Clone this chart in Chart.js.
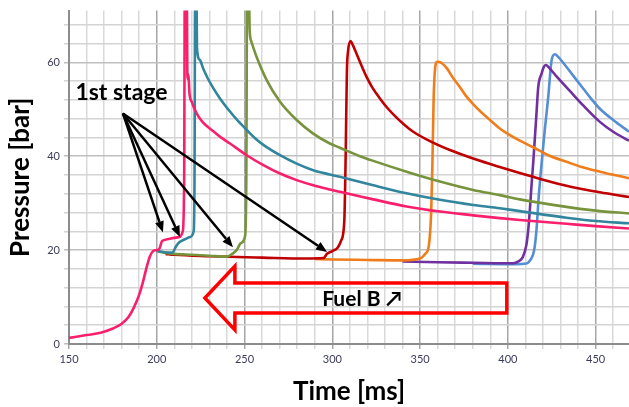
<!DOCTYPE html>
<html>
<head>
<meta charset="utf-8">
<script src="https://cdn.jsdelivr.net/npm/chart.js@4.4.1/dist/chart.umd.min.js"></script>
<style>
  html, body { margin: 0; padding: 0; background: #fff; }
</style>
</head>
<body>
<canvas id="pressureChart" width="629" height="407"></canvas>
<script>
// time [ms] and pressure [bar]
const pinkT = [150, 160, 168, 175, 180, 184, 187, 190, 192, 194, 196, 198, 200, 201.5, 203, 206, 210, 213, 214.8, 215.6, 216.0, 217.0, 217.5, 218.0, 218.6, 220, 222.7, 226, 232.2, 236.5, 241.7, 251.2, 260.7, 270.2, 279.7, 289.1, 298.6, 304.3, 316, 323.3, 342.3, 361.3, 380.2, 395.4, 406.8, 433.4, 450, 469];
const pinkP = [1.3, 1.9, 2.4, 3.3, 4.3, 5.8, 7.8, 10.5, 13, 16, 18.6, 19.8, 20.0, 20.3, 21.9, 22.3, 22.6, 22.8, 24, 35, 80, 80, 56.5, 57.5, 53.5, 51.5, 49.1, 47.3, 45.3, 44, 42.7, 40.2, 38.1, 36.3, 34.9, 33.8, 32.9, 32.4, 31.4, 30.8, 29.3, 28.2, 27.4, 26.8, 26.4, 25.6, 25.1, 24.6];

const tealT = [200, 202, 206, 209, 211, 213, 216, 219, 221, 221.5, 221.9, 222.5, 222.9, 224.5, 226.5, 229, 232.2, 236, 241.7, 246, 251.2, 256, 260.7, 270.2, 279.7, 289.1, 298.6, 304.3, 323.3, 342.3, 361.3, 380.2, 395.4, 406.8, 433.4, 450, 469];
const tealP = [19.9, 19.7, 19.5, 19.5, 20.8, 21.7, 22.3, 22.8, 24, 35, 80, 80, 63, 60.5, 58.6, 56.6, 54.5, 52.3, 49.5, 47.6, 45.6, 43.8, 42.4, 40.2, 38.4, 37, 36.1, 35.6, 33.8, 32.1, 30.7, 29.6, 28.9, 28.3, 26.9, 26.2, 25.7];

const greenT = [200, 205, 210, 220, 230, 240, 243, 245.5, 248, 250.3, 251.0, 251.5, 252.4, 252.9, 253.8, 256.9, 262.6, 270.2, 279.7, 289.1, 298.6, 304.3, 315.7, 323.3, 342.3, 361.3, 380.2, 395.4, 406.8, 433.4, 450, 469];
const greenP = [19.8, 19.4, 19.2, 19, 18.8, 18.6, 19.2, 20, 21.5, 23, 35, 80, 80, 67, 64.5, 61.1, 56.2, 51.6, 47.7, 44.8, 42.7, 41.8, 40, 39, 36.7, 34.6, 32.8, 31.7, 30.8, 29.2, 28.4, 27.8];

const redT = [205, 210, 230, 260, 285, 295, 297, 300, 303, 305, 306.8, 307.6, 308.3, 309, 310.4, 311.5, 313.8, 316.5, 319.5, 323, 327.1, 331.5, 336.6, 341, 346.1, 355.6, 367, 380.2, 395.4, 414.4, 433.4, 452.4, 469];
const redP = [19.2, 19, 18.7, 18.4, 18.2, 18.3, 19.2, 19.8, 20.5, 22, 26, 40, 58, 62.5, 64.5, 63.8, 61.8, 59.4, 56.9, 54.5, 52.3, 50.2, 48.2, 46.7, 45.2, 43.2, 41.3, 39.5, 37.7, 35.6, 33.7, 32.3, 31.3];

const orangeT = [290, 300, 320, 340, 350, 353, 355, 356.3, 357, 357.7, 358.5, 359.7, 361.5, 363, 365.1, 368.5, 372.7, 376, 380.2, 385, 389.8, 395.4, 399.3, 406.8, 414.4, 423, 433.4, 442, 452.4, 469];
const orangeP = [18.1, 18, 17.9, 17.8, 18.2, 19.2, 21, 28, 38, 52, 58.5, 60.1, 60, 59.6, 58.8, 56.8, 54.7, 52.9, 51.1, 49.3, 47.7, 45.9, 44.9, 43.3, 41.9, 40.2, 38.8, 37.7, 36.7, 35.3];

const purpleT = [340, 360, 380, 403, 406, 408.5, 410.5, 411.6, 412.6, 413.5, 414.4, 415.4, 416.3, 417.3, 419.2, 420.5, 421.6, 423.5, 427.7, 435.3, 442.9, 452.4, 460, 469];
const purpleP = [17.6, 17.4, 17.3, 17.2, 17.6, 18.5, 21, 24.3, 29, 34, 38.4, 44, 49.1, 54.7, 57.6, 59, 59.4, 58.8, 57, 53.9, 50.8, 47.3, 45.2, 43.3];

const blueT = [380, 403, 411, 413, 415, 416.3, 417.5, 419.2, 421, 423, 424.9, 426.8, 428.5, 433.4, 437.5, 442.9, 447.5, 452.4, 460, 469];
const blueP = [17.1, 17, 17.2, 18, 20, 24.3, 31, 38.4, 45.5, 52.6, 60.4, 61.7, 61.2, 59, 57, 54.4, 52.2, 50.1, 47.7, 45.2];

// annotations, in data units
const stageLabel = [179.9, 53.6];
const arrowFrom = [180.7, 49.1];
const arrowToT = [203.5, 213.2, 243.4, 297];
const arrowToP = [23.8, 22.8, 20.6, 19.6];
const fuelArrowT = [399.4, 244.5, 244.5, 227.4, 244.5, 244.5, 399.4];
const fuelArrowP = [13.0, 13.0, 16.6, 9.8, 3.0, 6.6, 6.6];
const fuelLabel = [316.8, 9.6];

const FONT = 'Lato, "Open Sans", sans-serif';

function pts(t, p) {
  return t.map((x, i) => ({ x: x, y: p[i] }));
}

function line(data, color) {
  return {
    data: data,
    borderColor: color,
    borderWidth: 2.6,
    pointRadius: 0,
    fill: false,
    cubicInterpolationMode: 'monotone'
  };
}

const annotate = {
  id: 'annotate',
  afterDatasetsDraw(chart) {
    const ctx = chart.ctx;
    const xs = chart.scales.x, ys = chart.scales.y;
    const px = v => xs.getPixelForValue(v);
    const py = v => ys.getPixelForValue(v);
    ctx.save();

    // black arrows to the first-stage steps
    ctx.strokeStyle = '#000';
    ctx.fillStyle = '#000';
    ctx.lineWidth = 2.5;
    const x0 = px(arrowFrom[0]), y0 = py(arrowFrom[1]);
    for (let i = 0; i < arrowToT.length; i++) {
      const x1 = px(arrowToT[i]), y1 = py(arrowToP[i]);
      const a = Math.atan2(y1 - y0, x1 - x0);
      const len = 11, w = 4.5;
      const bx = x1 - len * Math.cos(a), by = y1 - len * Math.sin(a);
      ctx.beginPath();
      ctx.moveTo(x0, y0);
      ctx.lineTo(bx, by);
      ctx.stroke();
      ctx.beginPath();
      ctx.moveTo(x1, y1);
      ctx.lineTo(bx + w * Math.sin(a), by - w * Math.cos(a));
      ctx.lineTo(bx - w * Math.sin(a), by + w * Math.cos(a));
      ctx.closePath();
      ctx.fill();
    }

    ctx.font = 'bold 23px ' + FONT;
    ctx.textAlign = 'center';
    ctx.textBaseline = 'middle';
    ctx.fillText('1st stage', px(stageLabel[0]), py(stageLabel[1]));

    // red block arrow
    ctx.strokeStyle = '#ff0000';
    ctx.lineWidth = 3.5;
    ctx.lineJoin = 'miter';
    ctx.beginPath();
    fuelArrowT.forEach((t, i) => {
      if (i === 0) ctx.moveTo(px(t), py(fuelArrowP[i]));
      else ctx.lineTo(px(t), py(fuelArrowP[i]));
    });
    ctx.closePath();
    ctx.stroke();

    ctx.fillStyle = '#000';
    ctx.font = 'bold 21px ' + FONT;
    ctx.fillText('Fuel B \u2197', px(fuelLabel[0]), py(fuelLabel[1]));
    ctx.restore();
  }
};

new Chart(document.getElementById('pressureChart'), {
  type: 'line',
  data: {
    datasets: [
      line(pts(pinkT, pinkP), '#fa1f6c'),
      line(pts(tealT, tealP), '#31859c'),
      line(pts(greenT, greenP), '#77933c'),
      line(pts(redT, redP), '#c00000'),
      line(pts(orangeT, orangeP), '#f07d1c'),
      line(pts(purpleT, purpleP), '#7030a0'),
      line(pts(blueT, blueP), '#558ed5')
    ]
  },
  options: {
    responsive: false,
    animation: false,
    layout: { padding: { top: 10, right: 0, left: 0, bottom: 0 } },
    plugins: { legend: { display: false }, tooltip: { enabled: false } },
    scales: {
      x: {
        type: 'linear',
        min: 150,
        max: 469,
        afterFit: s => { s.height = 63; },
        border: { color: '#8c8c8c', width: 2 },
        grid: {
          color: c => (c.tick.value % 50 === 0 ? '#a6a6a6' : '#d9d9d9'),
          lineWidth: 1.5,
          tickLength: 5
        },
        ticks: {
          stepSize: 10,
          includeBounds: false,
          autoSkip: false,
          maxRotation: 0,
          padding: 4,
          color: '#3b3b5c',
          font: { family: FONT, size: 11 },
          callback: v => (v % 50 === 0 ? v : '')
        },
        title: {
          display: true,
          text: 'Time [ms]',
          color: '#000',
          font: { family: FONT, size: 26, weight: 'bold' },
          padding: { top: 0, bottom: 0 }
        }
      },
      y: {
        min: 0,
        max: 71,
        afterFit: s => { s.width = 69; },
        border: { color: '#8c8c8c', width: 2 },
        grid: {
          color: c => (c.tick.value % 20 === 0 ? '#bfbfbf' : '#d4d4d4'),
          lineWidth: 1.5,
          tickLength: 5
        },
        ticks: {
          stepSize: 4,
          includeBounds: false,
          autoSkip: false,
          padding: 4,
          color: '#3b3b5c',
          font: { family: FONT, size: 11 },
          callback: v => (v % 20 === 0 ? v : '')
        },
        title: {
          display: true,
          text: 'Pressure [bar]',
          color: '#000',
          font: { family: FONT, size: 26, weight: 'bold' },
          padding: { top: 5, bottom: 0 }
        }
      }
    }
  },
  plugins: [annotate]
});
</script>
</body>
</html>
